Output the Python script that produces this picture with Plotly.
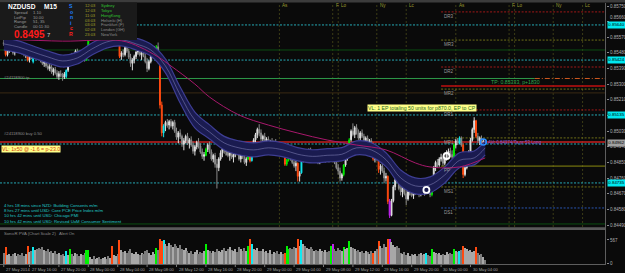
import plotly.graph_objects as go

# ------------------------------------------------------------------ data
BASE = 0.84          # prices are stored as points (1e-5) above this base
N_BARS = 263         # M15 bars, bar 0 = 27 May 12:30

opens = [
1540,1550,1470,1490,1505,1495,1480,1490,1510,1500,
1490,1480,1470,1500,1440,1460,1430,1465,1480,1470,
1450,1435,1420,1430,1405,1390,1400,1370,1385,1365,
1345,1360,1350,1340,1345,1380,1410,1465,1450,1470,
1490,1475,1460,1485,1470,1440,1475,1565,1590,1610,
1600,1625,1645,1630,1615,1640,1660,1640,1620,1640,
1590,1605,1620,1600,1460,1480,1470,1510,1490,1455,
1420,1440,1460,1485,1500,1470,1480,1460,1430,1390,
1430,1460,1480,1490,1515,1440,1180,1020,1060,1080,
1065,1085,1060,1080,1030,995,1020,1000,955,975,
1000,960,980,950,915,940,965,945,910,885,
890,925,950,910,870,890,840,820,870,905,
930,915,935,890,905,880,895,920,900,870,
895,880,850,870,915,860,930,980,1010,1040,
1020,985,1000,970,985,955,970,950,965,940,
930,915,925,910,840,865,895,870,850,830,
845,770,790,860,890,875,900,920,890,870,
895,880,850,880,900,875,890,870,860,920,
870,850,820,800,760,780,835,870,920,980,
1030,1010,1050,1020,990,1020,1000,970,990,960,
975,960,870,890,870,810,830,800,760,770,
625,545,630,710,750,745,700,680,710,670,
640,680,700,660,680,695,685,665,690,675,
695,720,690,665,740,820,850,835,870,880,
845,875,905,915,895,880,950,975,960,990,
950,780,820,870,910,980,1040,1090,1000,975,
990,965,970]

highs = [
1560,1560,1500,1515,1520,1510,1500,1520,1530,1515,
1505,1500,1490,1510,1470,1480,1470,1490,1495,1480,
1465,1450,1440,1445,1420,1415,1410,1395,1400,1380,
1375,1380,1365,1370,1385,1420,1470,1480,1475,1500,
1505,1495,1490,1500,1480,1480,1575,1600,1620,1640,
1630,1660,1670,1650,1645,1675,1680,1655,1650,1650,
1620,1630,1640,1610,1490,1500,1520,1530,1505,1475,
1450,1470,1490,1510,1515,1490,1500,1480,1450,1440,
1470,1490,1520,1525,1540,1450,1200,1070,1090,1100,
1095,1100,1090,1095,1050,1030,1040,1010,990,1010,
1020,990,1000,970,950,975,990,960,930,910,
935,960,970,925,900,905,870,880,920,940,
960,945,955,920,930,910,930,940,925,905,
920,900,880,920,925,940,990,1020,1050,1070,
1040,1010,1020,995,1000,980,990,975,985,960,
950,940,945,930,870,900,910,890,875,860,
850,800,870,900,910,910,930,935,910,900,
920,900,890,910,920,900,905,890,925,930,
890,870,840,820,790,840,880,930,990,1040,
1075,1060,1070,1040,1030,1040,1015,1000,1005,985,
990,965,900,905,880,840,850,820,790,775,
640,640,720,770,800,760,740,720,730,690,
690,720,715,690,710,720,700,700,710,700,
725,735,700,750,830,860,870,880,900,890,
880,920,930,935,920,960,985,990,1000,1000,
960,830,880,920,990,1050,1110,1095,1020,1000,
1005,985,980]

lows = [
1520,1460,1460,1480,1485,1470,1465,1485,1495,1480,
1470,1460,1450,1430,1425,1445,1420,1455,1460,1440,
1425,1410,1400,1395,1380,1375,1360,1350,1355,1330,
1325,1340,1320,1330,1335,1370,1405,1440,1430,1455,
1460,1450,1445,1465,1430,1435,1470,1550,1575,1590,
1585,1610,1620,1600,1600,1625,1630,1610,1605,1580,
1575,1590,1590,1450,1440,1455,1460,1480,1445,1400,
1380,1420,1445,1470,1460,1440,1455,1420,1370,1380,
1420,1450,1470,1485,1420,1160,1000,995,1030,1050,
1040,1050,1040,1020,980,960,985,940,920,960,
950,930,940,900,890,925,930,900,870,860,
885,910,900,860,850,820,700,800,860,880,
900,890,880,860,870,850,880,890,860,850,
870,840,830,865,850,855,920,960,990,1000,
970,950,960,940,945,930,940,920,935,905,
900,890,900,830,830,855,860,840,820,800,
740,740,785,850,860,865,880,880,860,850,
870,840,840,870,870,850,860,850,855,860,
840,810,780,740,745,770,825,860,915,970,
1000,990,1010,980,975,990,960,950,950,940,
945,860,850,860,790,780,790,730,740,610,
530,540,620,690,730,690,660,650,660,605,
630,660,650,640,665,670,650,655,665,660,
675,680,650,655,735,800,820,825,855,830,
835,860,890,880,870,875,930,950,955,940,
760,770,810,850,900,970,1020,990,960,950,
955,950,955]

closes = [
1530,1470,1490,1505,1495,1480,1490,1510,1500,1490,
1480,1470,1485,1440,1460,1450,1465,1480,1470,1450,
1435,1420,1430,1405,1390,1400,1370,1385,1365,1345,
1360,1350,1340,1360,1380,1410,1465,1450,1470,1490,
1475,1460,1485,1470,1440,1475,1565,1590,1610,1600,
1625,1645,1630,1615,1640,1660,1640,1620,1635,1590,
1605,1620,1600,1460,1480,1470,1510,1490,1455,1420,
1440,1460,1485,1500,1470,1480,1460,1430,1390,1430,
1460,1480,1505,1515,1440,1180,1020,1060,1080,1065,
1085,1060,1080,1030,995,1020,1000,955,975,1000,
960,980,950,915,940,965,945,910,885,895,
925,950,910,870,890,840,820,870,905,930,
915,935,890,905,880,895,920,900,870,895,
880,850,870,915,860,930,980,1010,1040,1020,
985,1000,970,985,955,970,950,965,940,930,
915,925,910,840,865,895,870,850,830,845,
770,790,860,890,875,900,920,890,870,895,
880,850,880,900,875,890,870,860,920,870,
850,820,800,760,780,835,870,920,980,1030,
1010,1050,1020,990,1020,1000,970,990,960,975,
960,870,890,870,810,830,800,760,770,625,
545,630,710,750,745,700,680,710,670,640,
680,700,660,680,695,685,665,690,675,695,
720,690,665,740,820,850,835,870,880,845,
875,905,915,895,880,950,975,960,990,950,
780,820,870,910,980,1040,1090,1000,975,990,
965,970,962]

volumes = [
260,410,200,240,180,220,250,170,230,210,260,190,240,
430,280,300,400,330,360,380,350,390,330,300,340,270,310,250,290,230,260,
200,240,180,300,210,340,230,190,260,220,170,240,200,260,330,320,
150,120,170,110,140,160,100,130,150,120,170,140,
420,200,180,230,555,
330,280,300,250,310,340,260,220,280,240,200,260,230,290,320,250,210,270,240,
380,320,580,540,560,
470,430,500,450,400,460,420,380,440,350,330,370,310,
260,300,240,280,320,230,270,250,290,480,330,300,260,310,280,350,300,270,
320,380,290,350,410,330,300,360,280,390,340,310,370,300,
420,580,460,
360,330,380,310,290,340,270,300,250,320,230,280,260,300,220,270,240,
260,420,350,
380,340,410,370,
580,420,555,
470,420,380,340,400,360,310,330,290,350,300,270,320,280,300,
420,480,
350,300,380,330,290,400,340,370,540,410,380,340,300,320,270,290,250,310,280,240,300,
260,300,340,540,420,380,460,400,580,580,520,450,400,430,380,
260,230,280,210,250,190,230,200,240,180,220,250,200,230,260,210,190,340,280,250,
220,260,200,240,210,280,230,250,220,
350,300,270,300,320,430,380,350,300,330,280,310,400,260,200,230,150,90]

# PVA bar classes (bar indices)
climax_bull = [36, 45, 46, 83, 110, 133, 154, 155, 178, 185, 188, 233, 245]
climax_bear = [1, 13, 59, 63, 85, 86, 134, 153, 160, 201, 204, 209, 250, 257]
rising_bull = [16, 34, 87, 135, 162, 230, 248]
rising_bear = [179, 210]

# SonicR dragon (EMA34 high / low / close) read every 8 bars
band_idx = [0, 8, 16, 24, 32, 40, 48, 56, 64, 72, 80, 88, 96, 104, 112, 120, 128,
            136, 144, 152, 160, 168, 176, 184, 192, 200, 208, 216, 224, 232, 240, 248, 256, 262]
band_hi = [1566, 1549, 1520, 1491, 1468, 1485, 1537, 1577, 1589, 1566, 1531, 1445, 1284, 1140, 1066, 1000, 974,
           963, 974, 963, 935, 923, 929, 935, 974, 963, 906, 807, 761, 767, 824, 906, 916, 974]
band_lo = [1497, 1480, 1451, 1422, 1399, 1416, 1468, 1508, 1520, 1497, 1462, 1365, 1192, 1049, 985, 922, 894,
           882, 894, 882, 859, 847, 853, 859, 894, 882, 826, 715, 669, 675, 732, 819, 836, 894]
band_mid = [1532, 1514, 1485, 1457, 1434, 1451, 1503, 1543, 1555, 1532, 1497, 1405, 1238, 1094, 1025, 962, 934,
            922, 934, 922, 897, 885, 891, 897, 934, 922, 866, 761, 715, 721, 778, 862, 876, 934]

# slow EMA (magenta)
slow_idx = [0, 32, 64, 74, 84, 91, 104, 112, 128, 144, 160, 176, 192, 208, 224, 232, 248, 262]
slow_val = [1560, 1548, 1550, 1514, 1457, 1405, 1301, 1226, 1123, 1065, 1019, 979, 950, 922, 847, 824, 824, 876]

# horizontal levels (prices)
cyan_levels = [0.85641, 0.85439, 0.85123, 0.84956, 0.84732]
dkgreen_levels = [0.85497, 0.84496]
tp_level = 0.85333
buy_level = 0.84968
faint_level = 0.85250
pivot_names = ["DR3", "MR3", "DR2", "MR2", "DR1", "MR1", "PP", "MS1", "DS1"]
pivot_prices = [0.85716, 0.85554, 0.85399, 0.85272, 0.85152, 0.84991, 0.84829, 0.84709, 0.84588]
pivot_kinds = ["r", "o", "r", "o", "r", "o", "p", "o", "b"]
day_high_level = 0.85290
pivot_start = 238          # 30 May 00:00
tp_split = 289

# sessions
sess_idx = [150, 179, 182, 203, 219, 246, 275, 278, 299, 315]
sess_lab = ["As", "F", "Lo", "Ny", "Lc", "As", "F", "Lo", "Ny", "Lc"]

# time axis
time_idx = [0, 14, 30, 46, 62, 78, 94, 110, 126, 142, 158, 174, 190, 206, 222, 238, 254]
time_lab = ["27 May 2014", "27 May 16:00", "27 May 20:00", "28 May 00:00", "28 May 04:00",
            "28 May 08:00", "28 May 12:00", "28 May 16:00", "28 May 20:00", "29 May 00:00",
            "29 May 04:00", "29 May 08:00", "29 May 12:00", "29 May 16:00", "29 May 20:00",
            "30 May 00:00", "30 May 04:00"]

# price axis (the 0.85120 label is hidden under a highlighted label in the reference)
price_ticks = [0.85750, 0.85660, 0.85570, 0.85480, 0.85390, 0.85300, 0.85210, 0.85120,
               0.85030, 0.84940, 0.84850, 0.84760, 0.84670, 0.84580, 0.84490]
price_tick_text = ["0.85750", "0.85660", "0.85570", "0.85480", "0.85390", "0.85300", "0.85210", "",
                   "0.85030", "0.84940", "0.84850", "0.84760", "0.84670", "0.84580", "0.84490"]
hl_prices = [0.85641, 0.85439, 0.85123, 0.84732]
hl_text = ["0.85640", "0.85424", "0.85135", "0.84735"]
bid = 0.84962
bid_text = "0.84962"

signal_idx = [230, 241]
signal_price = [0.84692, 0.84887]
avr_idx = [261]
avr_price = [0.84967]

events = ["4 hrs 18 mins since NZD: Building Consents m/m",
          "8 hrs 27 mins until USD: Core PCE Price Index m/m",
          "10 hrs 42 mins until USD: Chicago PMI",
          "10 hrs 42 mins until USD: Revised UoM Consumer Sentiment"]
clock_times = ["12:03", "12:03", "11:03", "03:03", "03:03", "02:03", "23:03"]
clock_names = ["Sydney", "Tokyo", "HongKong", "Helsinki (H)", "Frankfurt (F)", "London (GH)", "NewYork"]
info_keys = ["Spread", "LotPip", "Range", "Candle"]
info_vals = ["1.10", "10.00", "51, 35", "00:11:30"]

# ------------------------------------------------------------------ layout helpers
W, H = 625, 273
ML, MR, MT, MB = 0, 19, 3, 8
PW, PH = W - ML - MR, H - MT - MB
FONT = "Liberation Sans"
X_RANGE = [-2.05, 327.74]
Y_RANGE = [0.844785, 0.857673]
V_RANGE = [-36, 808]


def fx(x):
    return (x - ML) / PW


def fy(y):
    return (H - MB - y) / PH


def P(v):
    return round(BASE + v / 1e5, 5)


fig = go.Figure()
shapes = []
annotations = []


def txt(x, y, s, color="#a8a8a8", size=4.6, anchor="left", bold=False, bg=None, ya="middle",
        xref="paper", yref="paper"):
    a = dict(x=fx(x) if xref == "paper" else x, y=fy(y) if yref == "paper" else y,
             xref=xref, yref=yref, text=("<b>%s</b>" % s) if bold else s,
             showarrow=False, xanchor=anchor, yanchor=ya, borderpad=0,
             font=dict(family=FONT, size=size, color=color))
    if bg:
        a["bgcolor"] = bg
    annotations.append(a)


def hline(price, x0, x1, color, width=1, dash="solid"):
    shapes.append(dict(type="line", xref="x", yref="y", x0=x0, x1=x1, y0=price, y1=price,
                       line=dict(color=color, width=width, dash=dash), layer="below"))


DOT = "2px,1.5px"

# ---- levels
for lv in cyan_levels:
    hline(lv, X_RANGE[0], X_RANGE[1], "#26aab6", 1, DOT)
for lv in dkgreen_levels:
    hline(lv, X_RANGE[0], X_RANGE[1], "#0b4d12", 1)
hline(faint_level, X_RANGE[0], X_RANGE[1], "#3a2a14", 1)
hline(tp_level, X_RANGE[0], tp_split, "#2e9a4a", 1)
hline(tp_level, tp_split, X_RANGE[1], "#d05a20", 1, "5px,2px,1px,2px")
hline(buy_level, X_RANGE[0], X_RANGE[1], "#c82020", 1.5)
hline(day_high_level, pivot_start, X_RANGE[1], "#c01010", 1.5)
pcol = {"r": "#a01818", "o": "#6e6e18", "p": "#8a8a10", "b": "#2a55b0"}
for nm, pr, k in zip(pivot_names, pivot_prices, pivot_kinds):
    hline(pr, pivot_start, X_RANGE[1], pcol[k], 1, "solid" if k == "p" else DOT)
    txt(pivot_start + 0.8, pr, nm + "¯", color="#9a9a9a", size=4.5, ya="top", xref="x", yref="y")

# ---- session lines
for si, sl in zip(sess_idx, sess_lab):
    shapes.append(dict(type="line", xref="x", yref="paper", x0=si, x1=si, y0=fy(227), y1=fy(3),
                       line=dict(color="#3c3c16", width=1, dash="2px,2px"), layer="below"))
    annotations.append(dict(x=si + 1.0, y=fy(5.5), xref="x", yref="paper", text=sl, showarrow=False,
                            xanchor="left", yanchor="middle", borderpad=0,
                            font=dict(family=FONT, size=4.6, color="#9a9a30")))

# ---- dragon band
bx = band_idx
fig.add_trace(go.Scatter(x=bx, y=[P(v) for v in band_lo], mode="lines", line=dict(color="#3e3e94", width=1.2, shape="spline"),
                         hoverinfo="skip"))
fig.add_trace(go.Scatter(x=bx, y=[P(v) for v in band_hi], mode="lines", line=dict(color="#3e3e94", width=1.2, shape="spline"),
                         fill="tonexty", fillcolor="#1a1b50", hoverinfo="skip"))
fig.add_trace(go.Scatter(x=bx, y=[P(v) for v in band_mid], mode="lines", line=dict(color="#7a7ab0", width=0.6, shape="spline"),
                         hoverinfo="skip"))
fig.add_trace(go.Scatter(x=slow_idx, y=[P(v) for v in slow_val], mode="lines",
                         line=dict(color="#a8186c", width=1, shape="spline"), hoverinfo="skip"))

# ---- candles
special = {}
for i in climax_bull:
    special[i] = "#00f000"
for i in climax_bear:
    special[i] = "#ff4a10"
for i in rising_bull:
    special[i] = "#10e8f0"
for i in rising_bear:
    special[i] = "#c020f0"

n = min(N_BARS, len(opens), len(highs), len(lows), len(closes))
normal = [i for i in range(n) if i not in special]


def add_candles(idx, up, dn):
    fig.add_trace(go.Candlestick(
        x=idx, open=[P(opens[i]) for i in idx], high=[P(highs[i]) for i in idx],
        low=[P(lows[i]) for i in idx], close=[P(closes[i]) for i in idx],
        increasing=dict(line=dict(color=up, width=1), fillcolor=up),
        decreasing=dict(line=dict(color=dn, width=1), fillcolor=dn),
        whiskerwidth=0, hoverinfo="skip"))


add_candles(normal, "#e0e0e0", "#8a8a8a")
for col in ["#00f000", "#ff4a10", "#10e8f0", "#c020f0"]:
    idx = [i for i in range(n) if special.get(i) == col]
    add_candles(idx, col, col)

# ---- signal markers
fig.add_trace(go.Scatter(x=signal_idx, y=signal_price, mode="markers",
                         marker=dict(symbol="circle-open", size=6, color="#ffffff", line=dict(width=1.8)),
                         hoverinfo="skip"))
fig.add_trace(go.Scatter(x=avr_idx, y=avr_price, mode="markers",
                         marker=dict(symbol="circle-open", size=6, color="#2a8cff", line=dict(width=1.5)),
                         hoverinfo="skip"))
txt(avr_idx[0] + 2.2, avr_price[0], "AVr 0.84974/Ta.pr:53 Long", color="#8a5ad0", size=4.5, xref="x", yref="y")

# ---- volume
vcol = []
for i in range(len(volumes)):
    if i in special:
        vcol.append(special[i])
    elif i < n and closes[i] >= opens[i]:
        vcol.append("#a8a8a8")
    else:
        vcol.append("#7c7c7c")
fig.add_trace(go.Bar(x=list(range(len(volumes))), y=volumes, marker=dict(color=vcol, line=dict(width=0)),
                     width=0.62, xaxis="x2", yaxis="y2", hoverinfo="skip"))

# ---- frame
shapes.append(dict(type="rect", xref="paper", yref="paper", x0=0, x1=W / PW, y0=fy(2.5), y1=fy(0),
                   fillcolor="#3c3c3c", line=dict(width=0)))
shapes.append(dict(type="rect", xref="paper", yref="paper", x0=0, x1=fx(606), y0=fy(230), y1=fy(227.3),
                   fillcolor="#5a5a5a", line=dict(width=0)))
shapes.append(dict(type="line", xref="paper", yref="paper", x0=fx(605.5), x1=fx(605.5), y0=fy(265), y1=fy(3),
                   line=dict(color="#5e5e5e", width=1)))
shapes.append(dict(type="line", xref="paper", yref="paper", x0=0, x1=fx(606), y0=fy(264.5), y1=fy(264.5),
                   line=dict(color="#5e5e5e", width=1)))

# info box
shapes.append(dict(type="rect", xref="paper", yref="paper", x0=0, x1=fx(137), y0=fy(40), y1=fy(2.5),
                   fillcolor="#1a1a1a", line=dict(width=0), layer="above"))
txt(7, 6.5, "NZDUSD", color="#ffffff", size=6.6, bold=True)
txt(43, 6.5, "M15", color="#ffffff", size=6.6, bold=True)
for k, (key, val) in enumerate(zip(info_keys, info_vals)):
    txt(13, 12.5 + 4.6 * k, key, color="#9a9a9a", size=4.2)
    txt(32, 12.5 + 4.6 * k, val, color="#9a9a9a", size=4.2)
txt(13, 34.5, "0.8495", color="#ff1a1a", size=10, bold=True)
txt(45.5, 35.5, "7", color="#d0d0d0", size=6)
for k, (ch, col) in enumerate(zip("SonicR", ["#1f7fff", "#1f7fff", "#1f7fff", "#1f7fff", "#ff2020", "#ff2020"])):
    txt(71, 6 + 5.6 * k, ch, color=col, size=5.2, bold=True, anchor="center")
for k, (tm, nm) in enumerate(zip(clock_times, clock_names)):
    txt(84, 5.3 + 4.9 * k, tm, color="#a0a028", size=4.1)
    txt(100, 5.3 + 4.9 * k, nm, color="#30c030" if k < 3 else "#8c8c8c", size=4.1)

# order texts
txt(3, 77, "#24118900 tp", color="#8c8c8c", size=4.2)
txt(3, 133.5, "#24118900 buy 0.50", color="#8c8c8c", size=4.2)
txt(490, 82, "TP: 0.85333, p+1830", color="#2ea84a", size=5.2)
txt(0.5, 148.5, "VL: 1x50 @ -1.6 = p-23.0", color="#d04010", size=5.2, bg="#ffff88")
txt(367, 108, "VL: 1 EP totaling 50 units for p870.0, EP to CP", color="#1e6a1e", size=5.2, bg="#ffff88")

for k, e in enumerate(events):
    txt(3, 205 + 5.4 * k, e, color="#20c8c8", size=4.3)
txt(3, 233.5, "SonicR PVA (Chart Scale 2)   Alert On", color="#8c8c8c", size=4.2)

# price-scale labels (drawn as annotations so a crowded one can be nudged like in the reference)
for pv, pt in zip(price_ticks, price_tick_text):
    if not pt:
        continue
    annotations.append(dict(x=fx(608.5), y=pv, xref="paper", yref="y", text=pt, showarrow=False,
                            xanchor="left", yanchor="middle", borderpad=0,
                            yshift=4 if pt == "0.85660" else 0,
                            font=dict(family=FONT, size=4.5, color="#b0b0b0")))

# right-axis highlighted labels
for pr, t in zip(hl_prices, hl_text):
    annotations.append(dict(x=fx(606.5), y=pr, xref="paper", yref="y", text=t, showarrow=False,
                            xanchor="left", yanchor="middle", bgcolor="#00e8f0", borderpad=0.3,
                            font=dict(family=FONT, size=4.4, color="#000000")))
annotations.append(dict(x=fx(606.5), y=bid, xref="paper", yref="y", text=bid_text, showarrow=False,
                        xanchor="left", yanchor="middle", bgcolor="#a0a0a0", borderpad=0.3,
                        font=dict(family=FONT, size=4.4, color="#000000")))

# time labels
for ti, tl in zip(time_idx, time_lab):
    shapes.append(dict(type="line", xref="x", yref="paper", x0=ti, x1=ti, y0=fy(267), y1=fy(264.5),
                       line=dict(color="#7a7a7a", width=1)))
    annotations.append(dict(x=ti + 0.6, y=fy(269.2), xref="x", yref="paper", text=tl, showarrow=False,
                            xanchor="left", yanchor="middle", borderpad=0,
                            font=dict(family=FONT, size=4.1, color="#a0a0a0")))

fig.update_layout(
    width=W, height=H, margin=dict(l=ML, r=MR, t=MT, b=MB),
    paper_bgcolor="#0a0a0a", plot_bgcolor="#0a0a0a", showlegend=False,
    xaxis=dict(domain=[0, 1], range=X_RANGE, anchor="y", showgrid=False, zeroline=False,
               showticklabels=False, ticks="", rangeslider=dict(visible=False), fixedrange=True),
    xaxis2=dict(domain=[0, 1], range=X_RANGE, anchor="y2", showgrid=False, zeroline=False,
                showticklabels=False, ticks=""),
    yaxis=dict(domain=[fy(227), 1], range=Y_RANGE, side="right", anchor="x", showgrid=False, zeroline=False,
               tickvals=price_ticks, showticklabels=False, ticks="outside", ticklen=2,
               tickcolor="#8a8a8a"),
    yaxis2=dict(domain=[0, fy(230)], range=V_RANGE, side="right", anchor="x2", showgrid=False, zeroline=False,
                tickvals=[0, 567], ticktext=["0", "567"], ticks="outside", ticklen=2,
                tickcolor="#8a8a8a", tickfont=dict(family=FONT, size=4.5, color="#b0b0b0")),
    shapes=shapes, annotations=annotations, bargap=0,
)

fig.write_html("out.html")
